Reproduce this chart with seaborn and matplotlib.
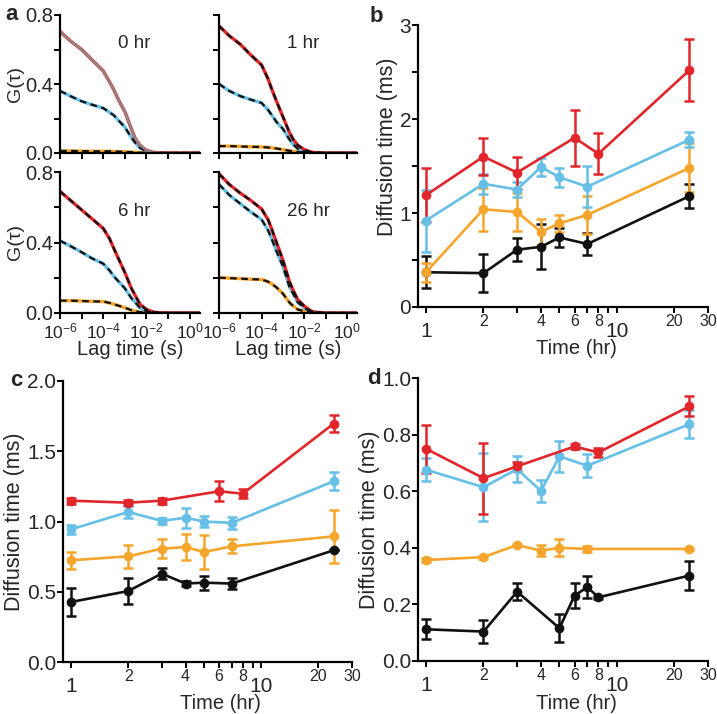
import numpy as np
import matplotlib
matplotlib.use("Agg")
import matplotlib.pyplot as plt
import matplotlib.ticker as mticker
import seaborn as sns

sns.set_style("ticks")
plt.rcParams['font.family'] = ['Liberation Sans', 'DejaVu Sans']
plt.rcParams['mathtext.default'] = 'regular'

RED = '#e1262b'
BLUE = '#66bfe6'
ORANGE = '#f5a52c'
BLACK = '#111111'

# ---- panel a: correlation curves ----
lag = [1e-6, 3e-6, 1e-5, 3e-5, 1e-4, 2e-4, 3e-4, 5e-4, 1e-3, 2e-3, 3e-3, 5e-3,
       1e-2, 2e-2, 3e-2, 1e-1, 1, 3]
g_0hr_red = [0.705, 0.65, 0.60, 0.54, 0.476, 0.41, 0.37, 0.31, 0.24, 0.14, 0.085, 0.045,
             0.015, 0.004, 0.002, 0, 0, 0]
g_0hr_blue = [0.36, 0.33, 0.30, 0.28, 0.26, 0.235, 0.22, 0.19, 0.15, 0.09, 0.06, 0.03,
              0.01, 0.003, 0.001, 0, 0, 0]
g_0hr_orange = [0.012, 0.012, 0.011, 0.01, 0.01, 0.01, 0.009, 0.008, 0.007, 0.005, 0.004,
                0.002, 0.001, 0, 0, 0, 0, 0]
g_1hr_red = [0.737, 0.68, 0.63, 0.57, 0.51, 0.43, 0.37, 0.30, 0.21, 0.12, 0.08, 0.045,
             0.02, 0.006, 0.003, 0, 0, 0]
g_1hr_blue = [0.40, 0.36, 0.33, 0.31, 0.29, 0.25, 0.22, 0.18, 0.14, 0.08, 0.05, 0.025,
              0.01, 0.003, 0.001, 0, 0, 0]
g_1hr_orange = [0.04, 0.04, 0.038, 0.036, 0.035, 0.032, 0.03, 0.026, 0.02, 0.013, 0.01,
                0.006, 0.004, 0.002, 0.001, 0, 0, 0]
g_6hr_red = [0.69, 0.64, 0.585, 0.535, 0.48, 0.42, 0.37, 0.31, 0.23, 0.14, 0.10, 0.05,
             0.02, 0.006, 0.003, 0, 0, 0]
g_6hr_blue = [0.41, 0.38, 0.345, 0.31, 0.28, 0.24, 0.21, 0.18, 0.14, 0.085, 0.06, 0.03,
              0.01, 0.003, 0.001, 0, 0, 0]
g_6hr_orange = [0.07, 0.07, 0.068, 0.066, 0.065, 0.057, 0.05, 0.042, 0.03, 0.016, 0.01,
                0.005, 0.002, 0.001, 0, 0, 0, 0]
g_26hr_red = [0.79, 0.73, 0.68, 0.64, 0.59, 0.53, 0.475, 0.40, 0.30, 0.18, 0.13, 0.075,
              0.04, 0.012, 0.005, 0, 0, 0]
g_26hr_blue = [0.73, 0.67, 0.62, 0.575, 0.53, 0.47, 0.42, 0.35, 0.265, 0.15, 0.11, 0.06,
               0.03, 0.008, 0.004, 0, 0, 0]
g_26hr_orange = [0.20, 0.198, 0.195, 0.192, 0.19, 0.178, 0.165, 0.145, 0.11, 0.06, 0.04,
                 0.02, 0.01, 0.003, 0.001, 0, 0, 0]

# ---- panel b ----
b_red_t = [1, 2, 3, 6, 8, 24]
b_red = [1.19, 1.60, 1.43, 1.80, 1.63, 2.52]
b_red_err = [0.29, 0.20, 0.17, 0.30, 0.22, 0.33]
b_blue_t = [1, 2, 3, 4, 5, 7, 24]
b_blue = [0.92, 1.31, 1.25, 1.49, 1.38, 1.28, 1.78]
b_blue_err = [0.33, 0.11, 0.08, 0.10, 0.10, 0.22, 0.08]
b_orange_t = [1, 2, 3, 4, 5, 7, 24]
b_orange = [0.37, 1.04, 1.01, 0.80, 0.89, 0.98, 1.48]
b_orange_err = [0.10, 0.23, 0.20, 0.14, 0.09, 0.20, 0.26]
b_black_t = [1, 2, 3, 4, 5, 7, 24]
b_black = [0.37, 0.36, 0.61, 0.64, 0.74, 0.67, 1.18]
b_black_err = [0.17, 0.20, 0.12, 0.24, 0.10, 0.12, 0.13]

# ---- panel c ----
c_red_t = [1, 2, 3, 6, 8, 24]
c_red = [1.148, 1.134, 1.148, 1.215, 1.198, 1.696]
c_red_err = [0.02, 0.02, 0.02, 0.07, 0.03, 0.06]
c_blue_t = [1, 2, 3, 4, 5, 7, 24]
c_blue = [0.944, 1.068, 1.004, 1.027, 1.00, 0.99, 1.286]
c_blue_err = [0.03, 0.04, 0.02, 0.07, 0.04, 0.04, 0.065]
c_orange_t = [1, 2, 3, 4, 5, 7, 24]
c_orange = [0.724, 0.752, 0.807, 0.818, 0.783, 0.823, 0.894]
c_orange_err = [0.06, 0.08, 0.07, 0.09, 0.12, 0.05, 0.19]
c_black_t = [1, 2, 3, 4, 5, 7, 24]
c_black = [0.427, 0.505, 0.629, 0.558, 0.565, 0.558, 0.795]
c_black_err = [0.10, 0.09, 0.04, 0.02, 0.05, 0.04, 0.0]

# ---- panel d ----
d_red_t = [1, 2, 3, 6, 8, 24]
d_red = [0.75, 0.646, 0.688, 0.758, 0.737, 0.90]
d_red_err = [0.085, 0.125, 0.015, 0.01, 0.015, 0.035]
d_blue_t = [1, 2, 3, 4, 5, 7, 24]
d_blue = [0.676, 0.614, 0.678, 0.601, 0.723, 0.69, 0.837]
d_blue_err = [0.04, 0.12, 0.045, 0.04, 0.055, 0.04, 0.05]
d_orange_t = [1, 2, 3, 4, 5, 7, 24]
d_orange = [0.357, 0.367, 0.410, 0.39, 0.40, 0.396, 0.396]
d_orange_err = [0.008, 0.005, 0.005, 0.02, 0.03, 0.01, 0.005]
d_black_t = [1, 2, 3, 5, 6, 7, 8, 24]
d_black = [0.112, 0.104, 0.245, 0.116, 0.231, 0.261, 0.225, 0.302]
d_black_err = [0.035, 0.04, 0.03, 0.05, 0.045, 0.04, 0.005, 0.05]

W, H = 717, 714
fig = plt.figure(figsize=(W / 100, H / 100), dpi=100)


def px_axes(x0, x1, y0, y1):
    # y0 = top pixel, y1 = bottom pixel
    return fig.add_axes([x0 / W, 1 - y1 / H, (x1 - x0) / W, (y1 - y0) / H])


def style_spines(ax):
    sns.despine(ax=ax)
    for s in ['left', 'bottom']:
        ax.spines[s].set_linewidth(1.6)
        ax.spines[s].set_color('black')
    ax.tick_params(which='both', width=1.4, length=4, color='black', direction='out')


# ---- panel a ----
a_panels = [
    (60, 200, 15, 153, '0 hr', (0.53, 0.79), g_0hr_red, g_0hr_blue, g_0hr_orange, True, False),
    (219, 357, 15, 153, '1 hr', (0.61, 0.79), g_1hr_red, g_1hr_blue, g_1hr_orange, False, False),
    (60, 200, 172, 313, '6 hr', (0.53, 0.72), g_6hr_red, g_6hr_blue, g_6hr_orange, True, True),
    (219, 357, 172, 313, '26 hr', (0.645, 0.72), g_26hr_red, g_26hr_blue, g_26hr_orange, False, True),
]
for x0, x1, y0, y1, label, pos, gr, gb, go, left, bottom in a_panels:
    ax = px_axes(x0, x1, y0, y1)
    for g, c in [(go, ORANGE), (gb, BLUE), (gr, RED)]:
        sns.lineplot(x=lag, y=g, ax=ax, color=c, lw=2.4)
    for g in [go, gb, gr]:
        if label == '0 hr' and g is gr:
            sns.lineplot(x=lag, y=g, ax=ax, color='#8a8a8a', lw=1.6)
        else:
            sns.lineplot(x=lag, y=g, ax=ax, color=BLACK, lw=1.6, linestyle=(0, (3, 2)))
    ax.set_xscale('log')
    ax.set_xlim(1e-6, 3)
    ax.set_ylim(0, 0.8)
    ax.set_xticks([1e-6, 1e-5, 1e-4, 1e-3, 1e-2, 1e-1, 1])
    ax.xaxis.set_minor_locator(mticker.NullLocator())
    ax.set_yticks([0, 0.4, 0.8])
    ax.set_yticks([0.2, 0.6], minor=True)
    style_spines(ax)
    if bottom:
        ax.set_xticklabels(['$10^{-6}$', '', '$10^{-4}$', '', '$10^{-2}$', '', '$10^{0}$'],
                           fontsize=12.5)
        ax.set_xlabel('Lag time (s)', fontsize=14.5, labelpad=-1)
    else:
        ax.set_xticklabels([])
    if left:
        ax.set_yticklabels(['0.0', '0.4', '0.8'], fontsize=14.5)
        ax.set_ylabel('G(τ)', fontsize=14, labelpad=1)
    else:
        ax.set_yticklabels([])
    ax.tick_params(axis='x', pad=2)
    ax.tick_params(axis='y', pad=1)
    ax.text(pos[0], pos[1], label, transform=ax.transAxes, ha='center', va='center',
            fontsize=13.5)


def time_panel(ax, series, ylim, yticks, ylabels, yminor=None, ylab_y=0.5, xlab_y=-0.115):
    for t, v, e, c in series:
        ax.errorbar(t, v, yerr=e, fmt='none', ecolor=c, elinewidth=1.8, capsize=3.5,
                    capthick=1.8, zorder=2)
        sns.lineplot(x=t, y=v, ax=ax, color=c, lw=1.9, marker='o', markersize=7,
                     markeredgewidth=0, zorder=3)
    ax.set_xscale('log')
    ax.set_xlim(0.908, 30)
    ax.set_ylim(*ylim)
    ax.set_xticks([1, 10])
    ax.set_xticklabels(['1', '10'], fontsize=15)
    minor = [2, 3, 4, 5, 6, 7, 8, 9, 20, 30]
    ax.set_xticks(minor, minor=True)
    ax.set_xticklabels(['2', '', '4', '', '6', '', '8', '', '20', '30'], minor=True,
                       fontsize=11.5)
    ax.set_yticks(yticks)
    ax.set_yticklabels(ylabels, fontsize=15)
    if yminor is not None:
        ax.set_yticks(yminor, minor=True)
    style_spines(ax)
    ax.tick_params(axis='x', which='major', pad=7)
    ax.tick_params(axis='x', which='minor', pad=1)
    ax.tick_params(axis='y', pad=1)
    ax.set_xlabel('Time (hr)', fontsize=14.5)
    ax.xaxis.set_label_coords(0.545, xlab_y)
    ax.xaxis.label.set_va('top')
    ax.set_ylabel('Diffusion time (ms)', fontsize=15.5, labelpad=1)
    ax.yaxis.label.set_y(ylab_y)


ax_b = px_axes(418, 708, 25, 307)
time_panel(ax_b, [(b_black_t, b_black, b_black_err, BLACK),
                  (b_orange_t, b_orange, b_orange_err, ORANGE),
                  (b_blue_t, b_blue, b_blue_err, BLUE),
                  (b_red_t, b_red, b_red_err, RED)],
           (0, 3), [0, 1, 2, 3], ['0', '1', '2', '3'], yminor=[0.5, 1.5, 2.5], ylab_y=0.57)

ax_c = px_axes(63, 352, 381, 662)
time_panel(ax_c, [(c_black_t, c_black, c_black_err, BLACK),
                  (c_orange_t, c_orange, c_orange_err, ORANGE),
                  (c_blue_t, c_blue, c_blue_err, BLUE),
                  (c_red_t, c_red, c_red_err, RED)],
           (0, 2), [0, 0.5, 1.0, 1.5, 2.0], ['0.0', '0.5', '1.0', '1.5', '2.0'])

ax_d = px_axes(418, 708, 378, 661)
time_panel(ax_d, [(d_black_t, d_black, d_black_err, BLACK),
                  (d_orange_t, d_orange, d_orange_err, ORANGE),
                  (d_blue_t, d_blue, d_blue_err, BLUE),
                  (d_red_t, d_red, d_red_err, RED)],
           (0, 1), [0, 0.2, 0.4, 0.6, 0.8, 1.0], ['0.0', '0.2', '0.4', '0.6', '0.8', '1.0'])

for letter, x, y in [('a', 12, 14), ('b', 376, 16), ('c', 16, 381), ('d', 374, 379)]:
    fig.text(x / W, 1 - y / H, letter, fontsize=16, fontweight='bold', ha='center',
             va='center')

fig.savefig('out.png', dpi=100)
